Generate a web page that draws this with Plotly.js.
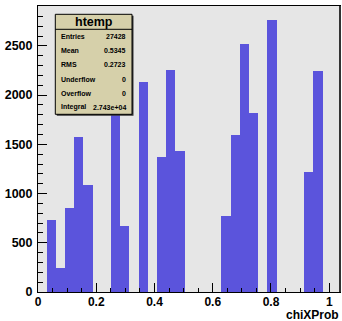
<!DOCTYPE html>
<html>
<head>
<meta charset="utf-8">
<script src="https://cdn.plot.ly/plotly-3.0.1.min.js"></script>
<style>html,body{margin:0;padding:0;background:#fff;}#chart{width:342px;height:321px;}</style>
</head>
<body>
<div id="chart"></div>
<script>
// Histogram definition (htemp, chiXProb)
const binLow = 0.0295;
const binWidth = 0.03158;
const counts = [727, 248, 852, 1572, 1090, 0, 0, 2150, 669, 0,
                2132, 0, 1368, 2258, 1430, 0, 0, 0, 0, 771,
                1592, 2522, 1823, 0, 2767, 0, 0, 0, 1219, 2240];
const statNames = ["Entries", "Mean", "RMS", "Underflow", "Overflow", "Integral"];
const statValues = ["27428", "0.5345", "0.2723", "0", "0", "2.743e+04"];
const histTitle = "htemp";
const xTitle = "chiXProb";

const centers = counts.map((c, i) => binLow + (i + 0.5) * binWidth);

// layout geometry helpers (pixel -> paper)
const W = 342, H = 321, L = 38, R = 2, T = 6, B = 29;
const pw = W - L - R, ph = H - T - B;
const px = x => (x - L) / pw;
const py = y => (H - B - y) / ph;

const FONT = "Liberation Sans, Arial, Helvetica, sans-serif";

const trace = {
  type: "bar",
  x: centers,
  y: counts,
  width: binWidth,
  marker: {color: "#5b54dc", line: {width: 0}},
  hoverinfo: "x+y"
};

const bx0 = 55.3, bx1 = 132, by0 = 14.3, by1 = 114.3, bsep = 29.3;
const rowY = [36.7, 50.7, 65, 79.3, 93.3, 107];

const shapes = [
  {type: "rect", xref: "paper", yref: "paper", x0: px(bx0 + 1.5), x1: px(bx1 + 1.5), y0: py(by0 + 1.5), y1: py(by1 + 1.5),
   fillcolor: "#333", line: {width: 0}, layer: "above"},
  {type: "rect", xref: "paper", yref: "paper", x0: px(bx0), x1: px(bx1), y0: py(by0), y1: py(by1),
   fillcolor: "#d6d0aa", line: {color: "#000", width: 1}, layer: "above"},
  {type: "line", xref: "paper", yref: "paper", x0: px(bx0), x1: px(bx1), y0: py(bsep), y1: py(bsep),
   line: {color: "#000", width: 1}, layer: "above"},
  {type: "line", xref: "paper", yref: "paper", x0: 1, x1: 1, y0: 0, y1: 1,
   line: {color: "#333", width: 2}, layer: "above"}
];

const annotations = [
  {xref: "paper", yref: "paper", x: px((bx0 + bx1) / 2), y: py((by0 + bsep) / 2), text: histTitle,
   showarrow: false, xanchor: "center", yanchor: "middle",
   font: {family: FONT, size: 12.5, color: "#000", weight: 700}},
  {xref: "paper", yref: "paper", x: 1, y: 0, yshift: -23, text: xTitle, borderpad: 0,
   showarrow: false, xanchor: "right", yanchor: "middle",
   font: {family: FONT, size: 12, color: "#000", weight: 700}}
];
statNames.forEach((n, i) => {
  annotations.push({xref: "paper", yref: "paper", x: px(59), y: py(rowY[i]), text: n,
    showarrow: false, xanchor: "left", yanchor: "middle",
    font: {family: FONT, size: 7, color: "#000", weight: 700}});
  annotations.push({xref: "paper", yref: "paper", x: px(128), y: py(rowY[i]), text: statValues[i],
    showarrow: false, xanchor: "right", yanchor: "middle",
    font: {family: FONT, size: 7, color: "#000", weight: 700}});
});

const layout = {
  width: W, height: H,
  margin: {l: L, r: R, t: T, b: B, pad: 0},
  paper_bgcolor: "#ffffff",
  plot_bgcolor: "#e6e6e6",
  showlegend: false,
  bargap: 0,
  xaxis: {
    range: [0, 1.037], dtick: 0.2, tick0: 0,
    ticks: "inside", ticklen: 9, tickwidth: 1, tickcolor: "#000",
    minor: {dtick: 0.05, ticks: "inside", ticklen: 4.5, tickwidth: 1, tickcolor: "#000"},
    showgrid: false, zeroline: false,
    showline: true, linecolor: "#000", linewidth: 1, mirror: true,
    tickfont: {family: FONT, size: 12, color: "#000", weight: 700},
    ticklabelstandoff: -1
  },
  yaxis: {
    range: [0, 2905], dtick: 500, tick0: 0,
    ticks: "inside", ticklen: 9, tickwidth: 1, tickcolor: "#000",
    minor: {dtick: 100, ticks: "inside", ticklen: 5, tickwidth: 1, tickcolor: "#000"},
    showgrid: false, zeroline: false,
    showline: true, linecolor: "#000", linewidth: 1, mirror: true,
    tickfont: {family: FONT, size: 12.5, color: "#000", weight: 700},
    ticklabelstandoff: 2
  },
  shapes: shapes,
  annotations: annotations
};

Plotly.newPlot("chart", [trace], layout, {displayModeBar: false, staticPlot: true});
</script>
</body>
</html>
